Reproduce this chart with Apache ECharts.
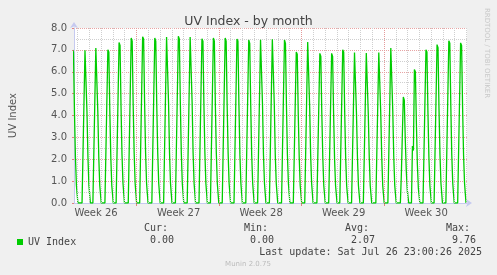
<!DOCTYPE html>
<html>
<head>
<meta charset="utf-8">
<script src="https://cdn.jsdelivr.net/npm/echarts@6.0.0/dist/echarts.min.js"></script>
<style>
    html, body { margin: 0; padding: 0; background: #f0f0f0; }
    #chart_month { width: 497px; height: 275px; }
</style>
</head>
<body>
<div id="chart_month"></div>
<script>
// x unit = days, 0 = first daily grid line of the graph
// each spike: time where UV jumps up, then the 2-hourly samples around it
var riseDay = [-0.42, 0.64, 1.56, 2.58, 3.53, 4.56, 5.53, 6.56, 7.56, 8.56, 9.56, 10.56,
    11.53, 12.53, 13.53, 14.53, 15.53, 16.53, 17.56, 18.56, 19.53, 20.56, 21.56,
    22.50, 23.50, 24.50, 25.56, 26.58, 27.64, 28.58, 29.56, 30.50, 31.50, 32.50];
var peakUV = [7.0, 6.98, 7.08, 7.0, 7.34, 7.54, 7.6, 7.54, 7.59, 7.62, 7.59, 7.51,
    7.54, 7.54, 7.5, 7.45, 7.46, 7.48, 7.45, 6.9, 7.36, 6.84, 6.84,
    7.0, 6.88, 6.86, 6.88, 7.08, 4.85, 6.1, 7.0, 7.24, 7.42, 7.32];
// samples before the peak (2h and 4h earlier)
var rise2h = [0, 0, 0, 0, 0, 0, 0, 0, 0, 0, 0, 0,
    0, 0, 0, 0, 0, 0, 0, 0, 0, 0, 0,
    0, 0, 0, 0, 0, 3.1, 2.4, 0, 0, 0, 0];
var rise4h = [0, 0, 0, 0, 0, 0, 0, 0, 0, 0, 0, 0,
    0, 0, 0, 0, 0, 0, 0, 0, 0, 0, 0,
    0, 0, 0, 0, 0, 1.3, 2.6, 0, 0, 0, 0];
// samples after the peak (2h, 4h, 6h, 8h later)
var fall2h = [6.9, 6.9, 7.0, 6.9, 7.2, 7.4, 7.5, 7.4, 7.5, 7.5, 7.5, 7.4,
    7.4, 7.4, 7.4, 7.3, 7.4, 7.4, 7.3, 6.8, 7.3, 6.7, 6.7,
    6.9, 6.8, 6.8, 6.8, 7.0, 4.7, 6.0, 6.9, 7.1, 7.3, 7.2];
var fall4h = [4.2, 4.2, 4.2, 4.2, 4.4, 4.5, 4.6, 4.5, 4.6, 4.6, 4.6, 4.5,
    4.5, 4.5, 4.5, 4.5, 4.5, 4.5, 4.5, 4.1, 4.4, 4.1, 4.1,
    4.2, 4.1, 4.1, 4.1, 4.2, 2.9, 3.7, 4.2, 4.3, 4.5, 4.4];
var fall6h = [2.1, 2.1, 2.1, 2.1, 2.2, 2.3, 2.3, 2.3, 2.3, 2.3, 2.3, 2.3,
    2.3, 2.3, 2.2, 2.2, 2.2, 2.2, 2.2, 2.1, 2.2, 2.1, 2.0,
    2.1, 2.1, 2.1, 2.1, 2.1, 1.5, 1.8, 2.1, 2.2, 2.2, 2.2];
var fall8h = [0.8, 0.8, 0.8, 0.8, 0.9, 0.9, 0.9, 0.9, 0.9, 0.9, 0.9, 0.9,
    0.9, 0.9, 0.9, 0.9, 0.9, 0.9, 0.9, 0.8, 0.9, 0.8, 0.8,
    0.8, 0.8, 0.8, 0.8, 0.8, 0.6, 0.7, 0.8, 0.9, 0.9, 0.9];

var weekNames = ['Week 26', 'Week 27', 'Week 28', 'Week 29', 'Week 30'];
var weekLabelAt = [1.58, 8.58, 15.58, 22.58, 29.58];
var weekLineAt = [5, 12, 19, 26];

var statNames = ['Cur:', 'Min:', 'Avg:', 'Max:'];
var statValues = ['0.00', '0.00', '2.07', '9.76'];
var lastUpdate = 'Last update: Sat Jul 26 23:00:26 2025';

var STEP = 1 / 12; // 2 hours
var MONO = '"DejaVu Sans Mono", monospace';
var SANS = '"DejaVu Sans", sans-serif';

function buildLine() {
    var pts = [];
    for (var i = 0; i < riseDay.length; i++) {
        var r = riseDay[i];
        pts.push([r - 3 * STEP, 0]);
        pts.push([r - 2 * STEP, rise4h[i]]);
        pts.push([r - STEP, rise2h[i]]);
        pts.push([r, peakUV[i]]);
        pts.push([r + STEP, fall2h[i]]);
        pts.push([r + 2 * STEP, fall4h[i]]);
        pts.push([r + 3 * STEP, fall6h[i]]);
        pts.push([r + 4 * STEP, fall8h[i]]);
        pts.push([r + 5.5 * STEP, 0]);
    }
    return pts;
}

// dotted day lines (grey) and week lines (red)
function gridLines() {
    var lines = [];
    for (var d = 0; d <= 33; d++) {
        if (weekLineAt.indexOf(d) >= 0) continue;
        lines.push({xAxis: d, lineStyle: {color: '#cfcfcf', type: [1, 1], width: 1}});
    }
    weekLineAt.forEach(function (w) {
        lines.push({xAxis: w, lineStyle: {color: '#e49a9a', type: [1, 1], width: 1}});
    });
    return lines;
}

var chart = echarts.init(document.getElementById('chart_month'));

var statText = [];
var statRight = [168, 268, 369, 470];
for (var i = 0; i < statNames.length; i++) {
    statText.push({type: 'text', x: statRight[i], y: 228,
        style: {text: statNames[i], font: '10px ' + MONO, fill: '#444', align: 'right', verticalAlign: 'middle'}});
    statText.push({type: 'text', x: statRight[i] + 6, y: 240,
        style: {text: statValues[i], font: '10px ' + MONO, fill: '#444', align: 'right', verticalAlign: 'middle'}});
}

chart.setOption({
    backgroundColor: '#f0f0f0',
    animation: false,
    textStyle: {fontFamily: SANS},
    title: {
        text: 'UV Index - by month',
        left: 'center',
        top: 10,
        textStyle: {fontSize: 12.5, fontWeight: 'normal', color: '#444', fontFamily: SANS}
    },
    legend: {
        data: ['UV Index'],
        left: 12,
        top: 232,
        icon: 'rect',
        itemWidth: 6,
        itemHeight: 6,
        itemGap: 5,
        textStyle: {fontFamily: MONO, fontSize: 10, color: '#444', padding: [0, 0, 0, 0]}
    },
    grid: {
        left: 67, right: 30, top: 28, bottom: 72,
        show: true, backgroundColor: '#ffffff', borderWidth: 0
    },
    xAxis: {
        type: 'value',
        min: -0.2917,
        max: 33.0417,
        axisLine: {show: true, lineStyle: {color: '#c6caf0', width: 1},
            symbol: ['none', 'arrow'], symbolSize: [6, 6], symbolOffset: [0, 5]},
        axisTick: {show: true, customValues: weekLineAt, length: 3, inside: false,
            lineStyle: {color: '#e08080'}},
        axisLabel: {
            customValues: weekLabelAt,
            margin: 5,
            fontSize: 10,
            color: '#555',
            fontFamily: SANS,
            formatter: function (v) {
                for (var k = 0; k < weekLabelAt.length; k++) {
                    if (Math.abs(weekLabelAt[k] - v) < 0.01) return weekNames[k];
                }
                return '';
            }
        },
        splitLine: {show: false}
    },
    yAxis: {
        type: 'value',
        min: 0,
        max: 8,
        interval: 1,
        name: 'UV Index',
        nameLocation: 'middle',
        nameRotate: 90,
        nameGap: 56,
        nameTextStyle: {fontSize: 10, color: '#555', fontFamily: SANS},
        axisLine: {show: true, onZero: false, lineStyle: {color: '#c6caf0', width: 1},
            symbol: ['none', 'arrow'], symbolSize: [6, 6], symbolOffset: [0, 6]},
        axisTick: {show: true, length: 2, lineStyle: {color: '#e08080'}},
        axisLabel: {
            margin: 7, fontSize: 10, color: '#555', fontFamily: SANS,
            formatter: function (v) { return v.toFixed(1); }
        },
        splitLine: {show: true, lineStyle: {color: '#e8a4a4', type: [1, 1], width: 1}},
        minorTick: {show: false, splitNumber: 2},
        minorSplitLine: {show: true, lineStyle: {color: '#cfcfcf', type: [1, 1], width: 1}}
    },
    graphic: [
        {type: 'text', x: 487, y: 53, rotation: -Math.PI / 2,
            style: {text: 'RRDTOOL / TOBI OETIKER', font: '7px ' + SANS, fill: '#c8c8c8',
                align: 'center', verticalAlign: 'middle'}},
        {type: 'text', x: 482, y: 252,
            style: {text: lastUpdate, font: '10px ' + MONO, fill: '#444', align: 'right', verticalAlign: 'middle'}},
        {type: 'text', x: 248, y: 264,
            style: {text: 'Munin 2.0.75', font: '7px ' + SANS, fill: '#bbbbbb', align: 'center', verticalAlign: 'middle'}}
    ].concat(statText),
    series: [
        {
            name: 'grid',
            type: 'line',
            data: [],
            silent: true,
            z: 1,
            markLine: {silent: true, symbol: 'none', label: {show: false}, animation: false,
                lineStyle: {type: [1, 1]}, data: gridLines()}
        },
        {
            name: 'UV Index',
            type: 'line',
            data: buildLine(),
            showSymbol: false,
            z: 3,
            color: '#00cc00',
            lineStyle: {color: '#00cc00', width: 1.3}
        }
    ]
});
</script>
</body>
</html>
